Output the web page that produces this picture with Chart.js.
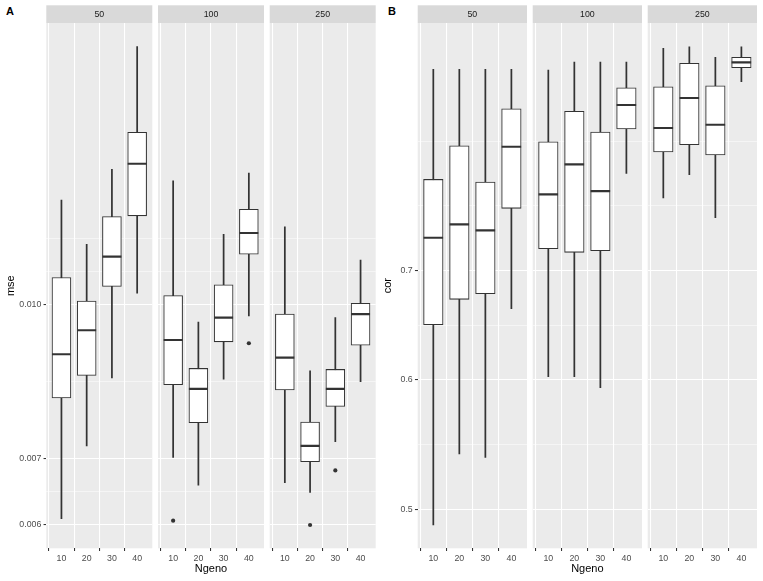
<!DOCTYPE html>
<html>
<head>
<meta charset="utf-8">
<script src="https://cdn.jsdelivr.net/npm/chart.js@4.4.1/dist/chart.umd.min.js"></script>
<style>
  html, body { margin: 0; padding: 0; background: #ffffff; }
  body { position: relative; width: 763px; height: 581px; overflow: hidden; font-family: 'Liberation Sans', Arial, sans-serif; }
  canvas { position: absolute; top: 0; }
  .tag { position: absolute; font-weight: bold; font-size: 11px; color: #000; line-height: 1; }
</style>
</head>
<body>
<div class="tag" style="left:6px;top:6px;">A</div>
<div class="tag" style="left:388px;top:6px;">B</div>
<script>
// ---------------- data ----------------
const ngeno = ['10', '20', '30', '40'];
const facetLabels = ['50', '100', '250'];

// Panel A : mse (log scale), one row per facet (50, 100, 250), one value per Ngeno
const mseLow = [[0.00609, 0.00721, 0.00844, 0.01028], [0.00702, 0.00658, 0.00842, 0.00975], [0.00662, 0.00647, 0.00728, 0.00837]];
const mseQ1  = [[0.00806, 0.00849, 0.01044, 0.01230], [0.00831, 0.00761, 0.00918, 0.01125], [0.00821, 0.00695, 0.00790, 0.00911]];
const mseMed = [[0.00892, 0.00943, 0.01119, 0.01388], [0.00922, 0.00823, 0.00971, 0.01182], [0.00885, 0.00721, 0.00823, 0.00979]];
const mseQ3  = [[0.01066, 0.01009, 0.01228, 0.01493], [0.01022, 0.00863, 0.01048, 0.01249], [0.00979, 0.00762, 0.00861, 0.01004]];
const mseHigh= [[0.01276, 0.01151, 0.01370, 0.01822], [0.01334, 0.00961, 0.01178, 0.01358], [0.01199, 0.00858, 0.00971, 0.01110]];
const mseOutCat = [[], ['10', '40'], ['20', '30']];
const mseOutVal = [[], [0.00606, 0.00915], [0.00600, 0.00681]];
const mseTicks = [0.006, 0.007, 0.010];
const mseTickLabels = ['0.006', '0.007', '0.010'];
const mseMinorTicks = [0.00648, 0.00837, 0.0108, 0.01167];
const mseRange = [0.005684, 0.019246];

// Panel B : cor (log scale)
const corLow = [[0.4891, 0.5405, 0.5380, 0.6633], [0.6027, 0.6027, 0.5934, 0.8026], [0.7752, 0.8010, 0.7540, 0.9131]];
const corQ1  = [[0.6485, 0.6721, 0.6774, 0.7640], [0.7218, 0.7181, 0.7197, 0.8543], [0.8271, 0.8356, 0.8236, 0.9313]];
const corMed = [[0.7330, 0.7470, 0.7407, 0.8332], [0.7792, 0.8128, 0.7828, 0.8837], [0.8555, 0.8924, 0.8595, 0.9384]];
const corQ3  = [[0.7958, 0.8344, 0.7928, 0.8790], [0.8391, 0.8759, 0.8507, 0.9054], [0.9067, 0.9371, 0.9080, 0.9451]];
const corHigh= [[0.9292, 0.9292, 0.9292, 0.9292], [0.9283, 0.9388, 0.9388, 0.9388], [0.9571, 0.9593, 0.9451, 0.9593]];
const corOutCat = [[], [], []];
const corOutVal = [[], [], []];
const corTicks = [0.5, 0.6, 0.7];
const corTickLabels = ['0.5', '0.6', '0.7'];
const corMinorTicks = [0.5477, 0.6481, 0.7668, 0.84];
const corRange = [0.4733, 0.9919];

// ---------------- layout ----------------
Chart.defaults.font.family = "'Liberation Sans', Arial, sans-serif";
Chart.defaults.font.size = 8.8;

const PANEL_TOP = 23, PANEL_BOTTOM = 548.3, STRIP_TOP = 5.3, H = 581;

const panels = [
  { yTitle: 'mse', lo: mseLow, q1: mseQ1, med: mseMed, q3: mseQ3, hi: mseHigh, outCat: mseOutCat, outVal: mseOutVal,
    ticks: mseTicks, tickLabels: mseTickLabels, minor: mseMinorTicks, range: mseRange,
    canvasLeft: 0, facets: [[46.3, 152.3], [158, 264], [269.7, 375.7]] },
  { yTitle: 'cor', lo: corLow, q1: corQ1, med: corMed, q3: corQ3, hi: corHigh, outCat: corOutCat, outVal: corOutVal,
    ticks: corTicks, tickLabels: corTickLabels, minor: corMinorTicks, range: corRange,
    canvasLeft: 377, facets: [[417.7, 527], [532.7, 642], [647.7, 757]] }
];

const facetBg = {
  id: 'facetBg',
  beforeDraw(chart) {
    const { ctx, chartArea: a } = chart;
    ctx.save();
    ctx.fillStyle = '#d9d9d9';
    ctx.fillRect(a.left, STRIP_TOP, a.right - a.left, a.top - STRIP_TOP);
    ctx.fillStyle = '#ebebeb';
    ctx.fillRect(a.left, a.top, a.right - a.left, a.bottom - a.top);
    ctx.restore();
  }
};

function makeFacet(cfg, fi) {
  const [left, right] = cfg.facets[fi];
  const first = fi === 0;
  const L = first ? cfg.canvasLeft : Math.floor(left);
  const yW = left - L;
  const R = Math.ceil(right);
  const W = R - L;
  const padR = R - right;
  const boxW = 0.75 * (right - left) / 4.2;
  const allTicks = cfg.ticks.concat(cfg.minor).sort((a, b) => a - b);
  const isMajor = v => cfg.ticks.indexOf(v) >= 0;
  const isCat = v => Number.isInteger(v) && v >= 1 && v <= ngeno.length;

  const canvas = document.createElement('canvas');
  canvas.width = W; canvas.height = H;
  canvas.style.left = L + 'px';
  canvas.style.width = W + 'px';
  canvas.style.height = H + 'px';
  document.body.appendChild(canvas);

  const xs = ngeno.map((c, i) => i + 1);
  new Chart(canvas, {
    type: 'bar',
    data: {
      datasets: [
        { type: 'line', label: 'outliers', order: 0, showLine: false,
          data: cfg.outCat[fi].map((c, k) => ({ x: ngeno.indexOf(c) + 1, y: cfg.outVal[fi][k] })),
          pointRadius: 2.1, pointBackgroundColor: '#333333', pointBorderWidth: 0 },
        { type: 'line', label: 'median', order: 1, showLine: false,
          data: xs.map((x, i) => ({ x, y: cfg.med[fi][i] })),
          pointStyle: 'line', pointRadius: boxW / 2, pointBorderWidth: 2.13, pointBorderColor: '#333333' },
        { type: 'bar', label: 'box', order: 2, grouped: false,
          data: xs.map((x, i) => ({ x, y: [cfg.q1[fi][i], cfg.q3[fi][i]] })),
          backgroundColor: '#ffffff', borderColor: '#333333', borderWidth: 1.07, borderSkipped: false, barThickness: boxW },
        { type: 'bar', label: 'whisker', order: 3, grouped: false,
          data: xs.map((x, i) => ({ x, y: [cfg.lo[fi][i], cfg.hi[fi][i]] })),
          backgroundColor: '#333333', borderWidth: 0, barThickness: 1.07 }
      ]
    },
    options: {
      responsive: false,
      animation: false,
      events: [],
      devicePixelRatio: 1,
      layout: { autoPadding: false, padding: { left: 0, top: 0, right: padR, bottom: 0 } },
      plugins: {
        legend: { display: false },
        tooltip: { enabled: false },
        title: { display: true, text: facetLabels[fi], fullSize: false, color: '#1a1a1a',
                 font: { size: 8.8, weight: 'normal' }, padding: { top: 8.87, bottom: 3.57 } }
      },
      scales: {
        x: {
          type: 'linear', min: 0.4, max: 4.6, bounds: 'data', offset: false,
          afterBuildTicks: s => { s.ticks = ngeno.map((c, i) => ({ value: i + 1 })); },
          afterFit: s => { s.height = H - PANEL_BOTTOM; },
          ticks: { autoSkip: false, maxRotation: 0, minRotation: 0, color: '#4d4d4d', font: { size: 8.8 }, padding: 2.2,
                   callback: (v, i) => ngeno[i] },
          grid: { color: c => (c.tick && isCat(c.tick.value)) ? '#ffffff' : 'rgba(0,0,0,0)',
                  lineWidth: 1.07,
                  tickColor: c => (c.tick && isCat(c.tick.value)) ? '#333333' : 'rgba(0,0,0,0)',
                  tickLength: 2.75, tickWidth: 1.07, drawTicks: true },
          border: { display: false },
          title: { display: fi === 1, text: 'Ngeno', color: '#000000', font: { size: 11 }, padding: { top: 0, bottom: 5.1 } }
        },
        y: {
          type: 'logarithmic', min: cfg.range[0], max: cfg.range[1], bounds: 'data',
          afterBuildTicks: s => { s.ticks = allTicks.map(v => ({ value: v })); },
          afterFit: s => { s.width = yW; },
          ticks: { display: first, autoSkip: false, color: '#4d4d4d', font: { size: 8.8 }, padding: 2.2,
                   callback: v => { const k = cfg.ticks.indexOf(v); return k >= 0 ? cfg.tickLabels[k] : ''; } },
          grid: { color: '#ffffff',
                  lineWidth: c => (c.tick && isMajor(c.tick.value)) ? 1.07 : 0.53,
                  drawTicks: first, tickLength: 2.75, tickWidth: 1.07,
                  tickColor: c => (c.tick && isMajor(c.tick.value)) ? '#333333' : 'rgba(0,0,0,0)' },
          border: { display: false },
          title: { display: first, text: cfg.yTitle, color: '#000000', font: { size: 11 }, padding: { top: 4, bottom: 4 } }
        }
      }
    },
    plugins: [facetBg]
  });
}

panels.forEach(p => { for (let fi = 0; fi < 3; fi++) makeFacet(p, fi); });
</script>
</body>
</html>
